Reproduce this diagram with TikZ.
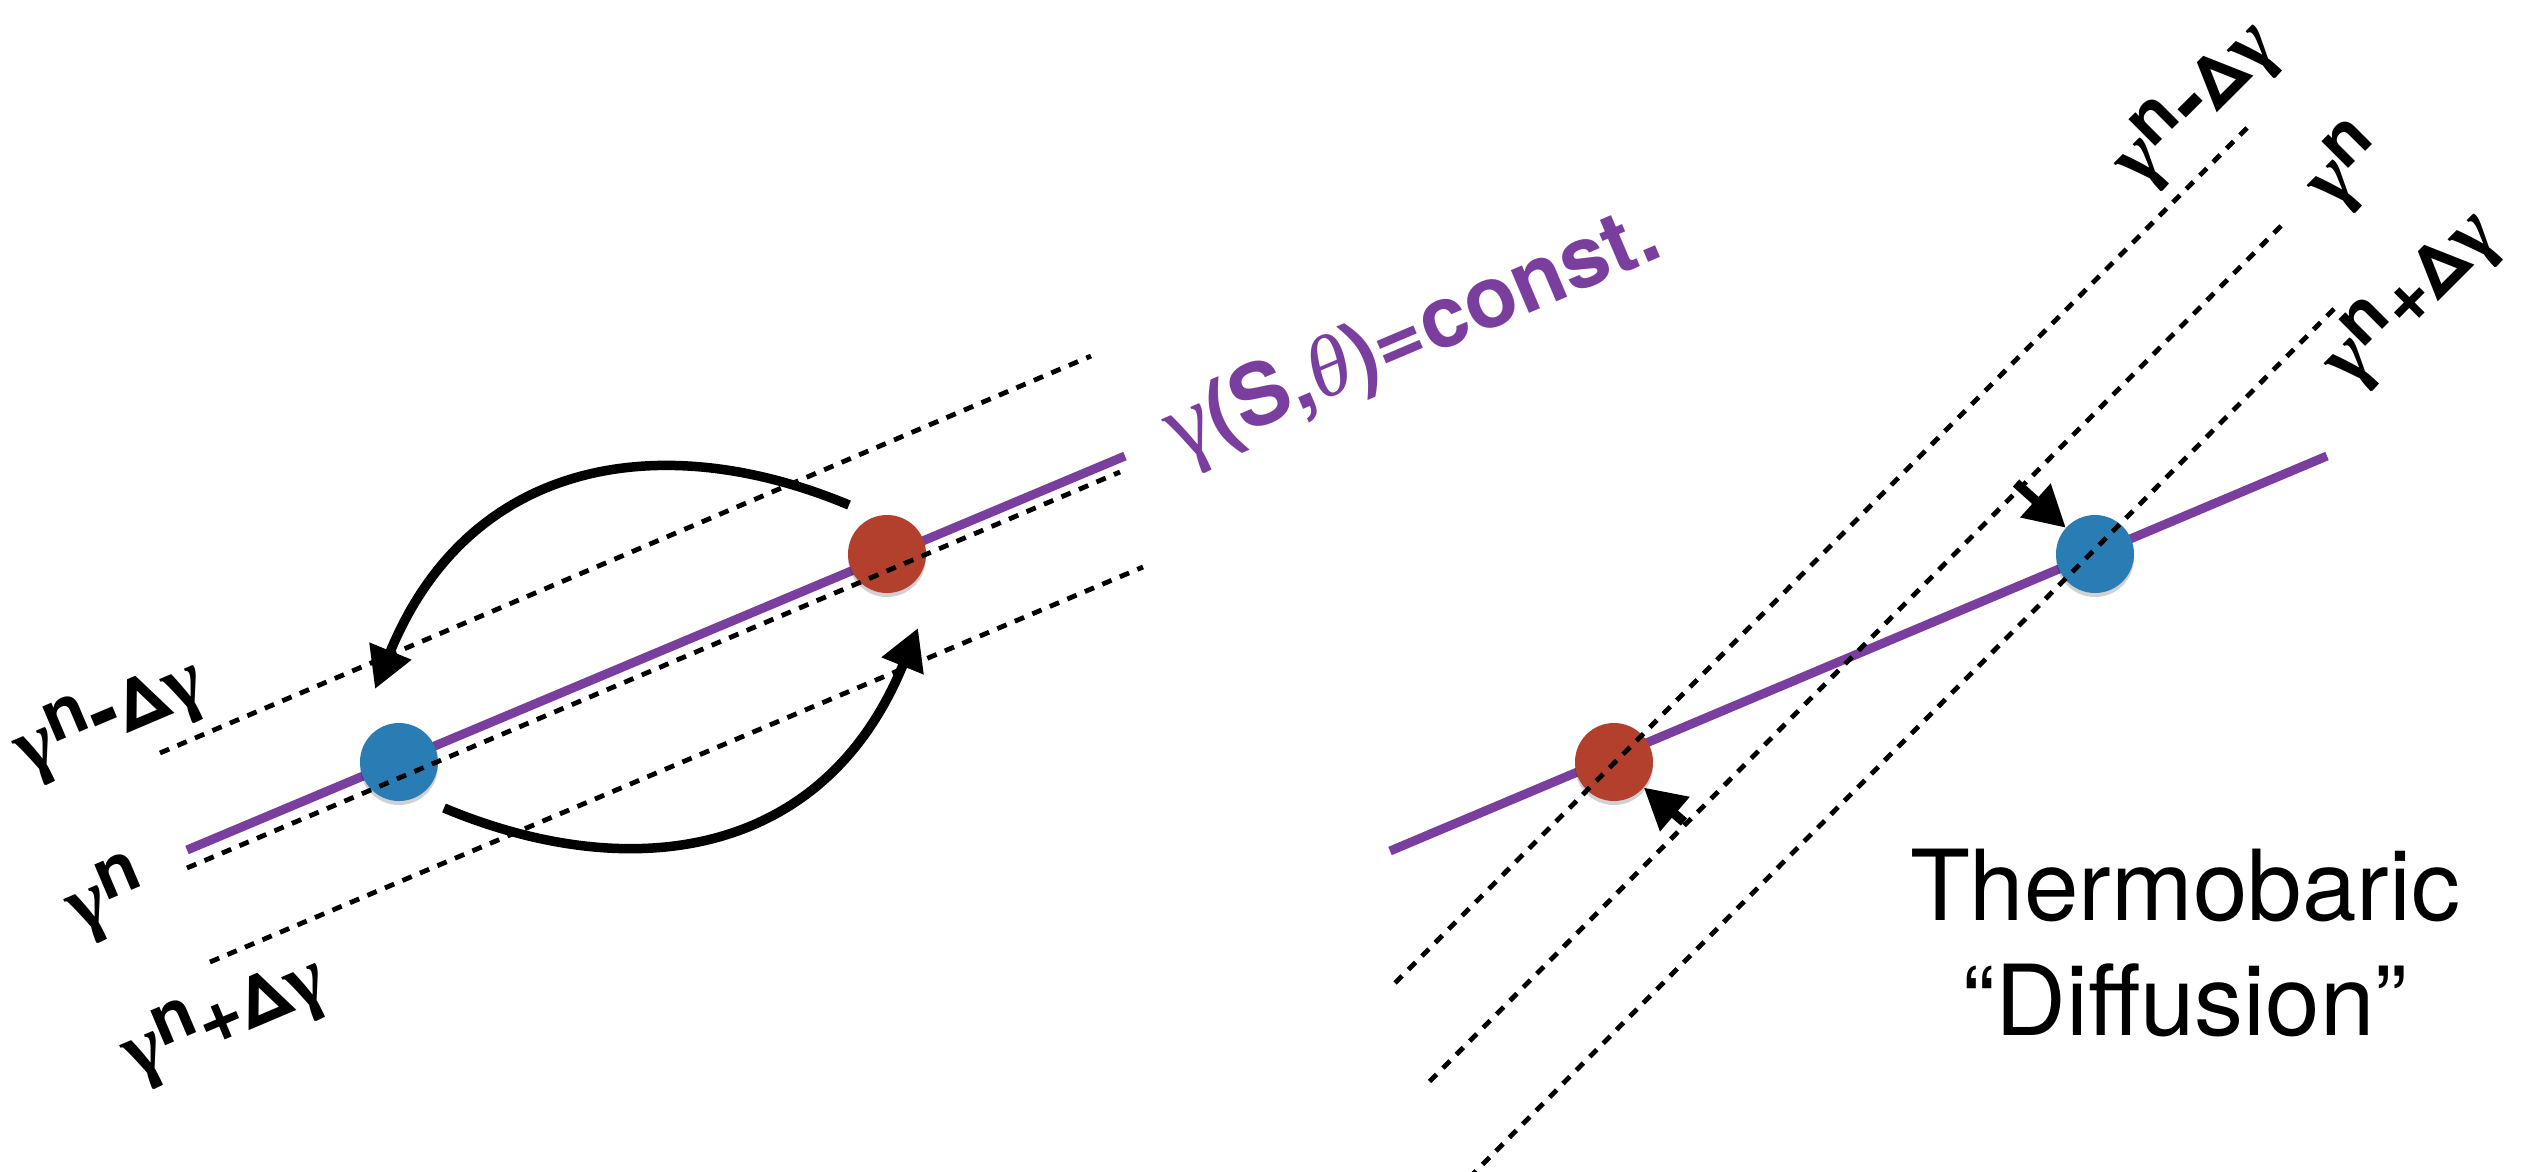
\documentclass[tikz,border=0pt]{standalone}
\usepackage{fontspec}
\usepackage{graphicx}
\setmainfont{TeX Gyre Heros}
\newfontfamily\grk{Liberation Serif}
\usetikzlibrary{arrows.meta,shadows}

\definecolor{isoviolet}{HTML}{7A3F9E}
\definecolor{parcelblue}{HTML}{2A7DB4}
\definecolor{parcelred}{HTML}{B2402C}

% neutral-density labels: gamma with a raised n
\newcommand{\gam}{\scalebox{1.15}{\grk γ}}
\newcommand{\supn}{\raisebox{0.28em}{n}}
\newcommand{\mns}{\scalebox{1.25}{-}}
\newcommand{\pls}{\scalebox{1.1}{+}}
\newcommand{\labfont}{\fontsize{70}{70}\selectfont\bfseries}

\begin{document}
\begin{tikzpicture}[x=1pt,y=-1pt,
  iso/.style={line width=9pt, isoviolet},
  level/.style={line width=4.8pt, dash pattern=on 10pt off 9pt, black},
  dot/.style={circle, minimum size=78pt, inner sep=0pt, draw=none,
    drop shadow={shadow xshift=0pt, shadow yshift=-4pt, opacity=0.18, fill=black}},
  arc/.style={line width=9.5pt, black, -{Triangle[length=41pt,width=43pt]}},
  lab/.style={inner sep=0pt, anchor=base west, font=\labfont},
]
\fill[white] (0,0) rectangle (2528,1171);
\useasboundingbox (0,0) rectangle (2528,1171);

% ---------- left panel: exchange of two parcels along gamma = const ----------
\draw[iso] (187,850) -- (1125,456);
\node[dot, fill=parcelblue] (blueL) at (399,762) {};
\node[dot, fill=parcelred]  (redL)  at (887,554) {};
\draw[level] (160,753) -- (1091,356);
\draw[level] (187,868) -- (1120,472);
\draw[level] (210,962) -- (1143,567);

\coordinate (upS) at (849,505);
\coordinate (upE) at (375,689);
\coordinate (loS) at (444,808);
\coordinate (loE) at (918,628);
\draw[arc] (upS) .. controls (665,428) and (470,456) .. (upE);
\draw[arc] (loS) .. controls (628,885) and (823,861) .. (loE);

\node[lab, rotate=23] (lbLm) at (26,776)   {\gam\supn\mns Δ\gam};
\node[lab, rotate=23] (lbL0) at (78,934)   {\gam\supn};
\node[lab, rotate=23] (lbLp) at (134,1080) {\gam\supn\pls Δ\gam};

\node[anchor=base west, rotate=23, inner sep=0pt, text=isoviolet,
      font=\fontsize{86}{86}\selectfont\bfseries] (isolab) at (1179,462)
      {{\mdseries\gam}(S,{\grk\mdseries\itshape θ})=const.};

% ---------- right panel: thermobaric "diffusion" ----------
\draw[iso] (1390,851) -- (2327,456);
\node[dot, fill=parcelred]  (redR)  at (1614,762) {};
\node[dot, fill=parcelblue] (blueR) at (2095,554) {};
\draw[level] (2247,128) -- (1394,984);
\draw[level] (2281,226) -- (1425,1086);
\draw[level] (2334,309) -- (1472,1175);

\coordinate (pushR) at (1684,822);
\coordinate (pushB) at (2016,483);
\draw[arc] (pushR) -- (redR);
\draw[arc] (pushB) -- (blueR);

\node[lab, rotate=45] (lbRm) at (2140,190) {\gam\supn\mns Δ\gam};
\node[lab, rotate=45] (lbR0) at (2333,212) {\gam\supn};
\node[lab, rotate=45] (lbRp) at (2350,390) {\gam\supn\pls Δ\gam};

\node[anchor=base, inner sep=0pt, font=\fontsize{98}{98}\selectfont] (cap1) at (2185,920) {Thermobaric};
\node[anchor=base, inner sep=0pt, font=\fontsize{98}{98}\selectfont] (cap2) at (2185,1035) {“Diffusion”};
\end{tikzpicture}
\end{document}
